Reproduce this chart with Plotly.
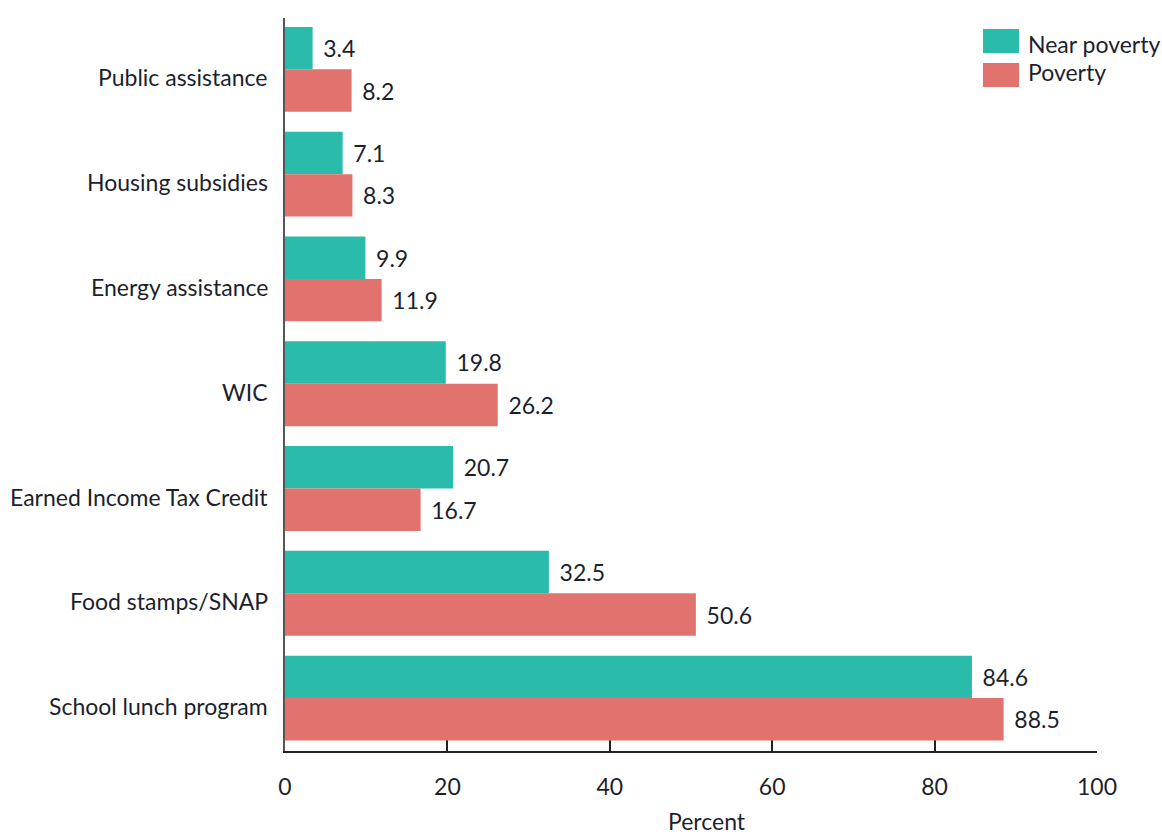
import plotly.graph_objects as go

# Program participation by income group (percent)
programs = [
    "Public assistance",
    "Housing subsidies",
    "Energy assistance",
    "WIC",
    "Earned Income Tax Credit",
    "Food stamps/SNAP",
    "School lunch program",
]
near_poverty = [3.4, 7.1, 9.9, 19.8, 20.7, 32.5, 84.6]
poverty = [8.2, 8.3, 11.9, 26.2, 16.7, 50.6, 88.5]
x_ticks = [0, 20, 40, 60, 80, 100]

TEAL = "#2bbbaa"
RED = "#e2726d"
TEXT = "#1c1f2e"
FONT = "Lato"
SIZE = 23

# plot area in pixels, used to place the hand-drawn legend
PLOT_L, PLOT_T, PLOT_W, PLOT_H = 285, 18, 812, 733

fig = go.Figure()
for name, vals, color in [("Near poverty", near_poverty, TEAL), ("Poverty", poverty, RED)]:
    fig.add_trace(go.Bar(
        y=programs, x=vals, name=name, orientation="h",
        marker=dict(color=color, line=dict(width=0)),
        text=[f"\u2004{v:.1f}" for v in vals],
        textposition="outside", cliponaxis=False,
        textfont=dict(family=FONT, size=SIZE, color=TEXT),
        showlegend=False,
    ))

# Category labels, set slightly below each group's centre
for prog in programs:
    fig.add_annotation(xref="paper", yref="y", x=0, y=prog, xshift=-15, yshift=-8,
                       text=prog, showarrow=False, xanchor="right", yanchor="middle",
                       font=dict(family=FONT, size=SIZE, color=TEXT))

# Legend drawn as swatches + labels
legend_rows = [("Near poverty", TEAL, 29, 44), ("Poverty", RED, 63, 72)]
for name, color, top_px, text_px in legend_rows:
    fig.add_shape(type="rect", xref="paper", yref="paper",
                  x0=(983 - PLOT_L) / PLOT_W, x1=(1019 - PLOT_L) / PLOT_W,
                  y0=1 - (top_px + 24 - PLOT_T) / PLOT_H, y1=1 - (top_px - PLOT_T) / PLOT_H,
                  fillcolor=color, line=dict(width=0))
    fig.add_annotation(xref="paper", yref="paper", x=(1026 - PLOT_L) / PLOT_W,
                       y=1 - (text_px - PLOT_T) / PLOT_H,
                       text=name, showarrow=False, xanchor="left", yanchor="middle",
                       font=dict(family=FONT, size=SIZE, color=TEXT))

fig.add_annotation(xref="x", yref="paper", x=52, y=0, yshift=-70,
                   text="Percent", showarrow=False, yanchor="middle",
                   font=dict(family=FONT, size=SIZE, color=TEXT))

fig.update_layout(
    width=1162, height=836,
    margin=dict(l=PLOT_L, r=1162 - PLOT_L - PLOT_W, t=PLOT_T, b=836 - PLOT_T - PLOT_H),
    barmode="group", bargap=0.19, bargroupgap=0,
    plot_bgcolor="white", paper_bgcolor="white",
    font=dict(family=FONT, size=SIZE, color=TEXT),
    xaxis=dict(range=[0, 100], tickvals=x_ticks, ticks="inside", ticklen=17,
               tickwidth=2, tickcolor="#222", showline=True, linecolor="#222",
               linewidth=2, showgrid=False, zeroline=False, layer="below traces",
               tickfont=dict(family=FONT, size=SIZE, color=TEXT), ticklabelstandoff=14),
    yaxis=dict(categoryorder="array", categoryarray=programs, range=[6.505, -0.49],
               showline=True, linecolor="#555", linewidth=2, ticks="",
               showticklabels=False, showgrid=False, zeroline=False,
               layer="below traces"),
)

fig.write_html("out.html")
